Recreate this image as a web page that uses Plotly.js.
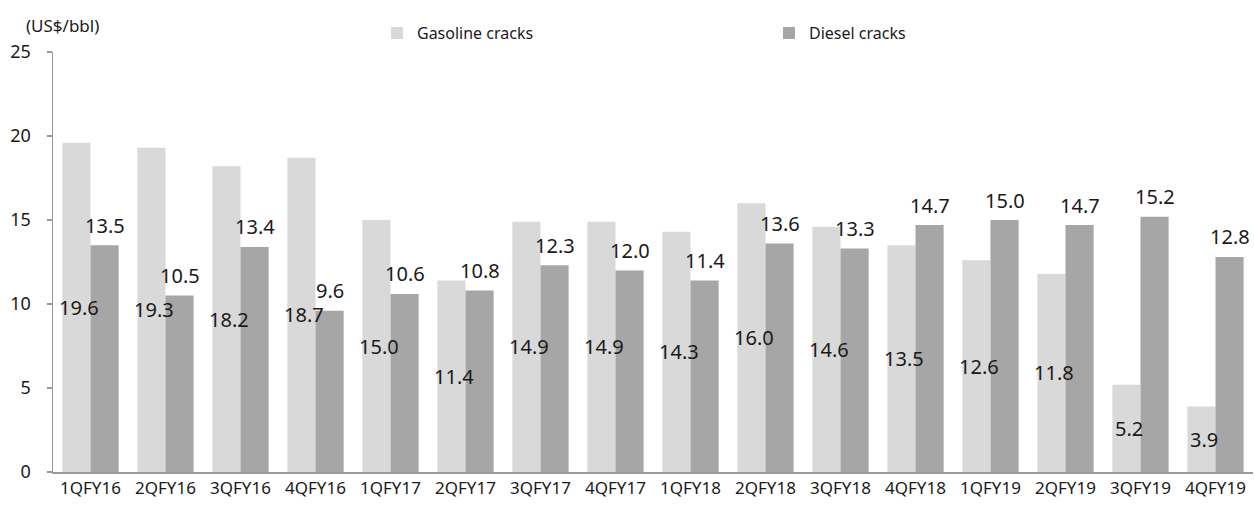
<!DOCTYPE html>
<html>
<head>
<meta charset="utf-8">
<script src="https://cdn.plot.ly/plotly-3.0.1.min.js"></script>
<style>html,body{margin:0;padding:0;background:#fff;}#chart{width:1254px;height:508px;}</style>
</head>
<body>
<div id="chart"></div>
<script>
const categories = ['1QFY16','2QFY16','3QFY16','4QFY16','1QFY17','2QFY17','3QFY17','4QFY17','1QFY18','2QFY18','3QFY18','4QFY18','1QFY19','2QFY19','3QFY19','4QFY19'];
const gasoline = [19.6,19.3,18.2,18.7,15.0,11.4,14.9,14.9,14.3,16.0,14.6,13.5,12.6,11.8,5.2,3.9];
const diesel = [13.5,10.5,13.4,9.6,10.6,10.8,12.3,12.0,11.4,13.6,13.3,14.7,15.0,14.7,15.2,12.8];
const yTicks = [0,5,10,15,20,25];

const FONT = 'Noto Sans, Open Sans, sans-serif';
const TXT = '#1a1a1a';

const traces = [
  {
    type: 'bar', name: 'Gasoline cracks', x: categories, y: gasoline,
    marker: {color: '#d9d9d9', line: {width: 0}},
    hoverinfo: 'skip'
  },
  {
    type: 'bar', name: 'Diesel cracks', x: categories, y: diesel,
    marker: {color: '#a6a6a6', line: {width: 0}},
    hoverinfo: 'skip'
  }
];

// value labels: gasoline centred inside its bar, diesel above its bar
const labelAnns = [];
categories.forEach((c, i) => {
  labelAnns.push({
    x: c, y: gasoline[i] / 2, xref: 'x', yref: 'y', xshift: -12,
    text: gasoline[i].toFixed(1), showarrow: false,
    xanchor: 'center', yanchor: 'middle',
    font: {family: FONT, size: 20, color: TXT}
  });
  labelAnns.push({
    x: c, y: diesel[i], xref: 'x', yref: 'y', xshift: 14, yshift: 20,
    text: diesel[i].toFixed(1), showarrow: false,
    xanchor: 'center', yanchor: 'middle',
    font: {family: FONT, size: 20, color: TXT}
  });
});

const layout = {
  width: 1254, height: 508,
  margin: {l: 53, r: 1, t: 52, b: 36, pad: 0},
  paper_bgcolor: '#fff', plot_bgcolor: '#fff',
  barmode: 'group', bargap: 0.25, bargroupgap: 0,
  font: {family: FONT, size: 17, color: TXT},
  showlegend: true,
  legend: {
    orientation: 'h', x: 0.27, xanchor: 'left', y: 1.045, yanchor: 'middle',
    entrywidth: 347, entrywidthmode: 'pixels',
    font: {family: FONT, size: 16, color: TXT},
    itemclick: false, bgcolor: 'rgba(0,0,0,0)'
  },
  xaxis: {
    type: 'category', showline: true, linecolor: '#999', linewidth: 1.5,
    ticks: '', showgrid: false, zeroline: false, automargin: false,
    tickfont: {family: FONT, size: 17, color: TXT}
  },
  yaxis: {
    range: [0, 25], tickvals: yTicks, ticktext: yTicks.map(String),
    showline: true, linecolor: '#999', linewidth: 1.5,
    ticks: 'outside', ticklen: 5, tickcolor: '#999', tickwidth: 1.5,
    ticklabelstandoff: 12,
    showgrid: false, zeroline: false, automargin: false,
    tickfont: {family: FONT, size: 18, color: TXT}
  },
  annotations: [
    {text: '(US$/bbl)', xref: 'paper', yref: 'paper', x: -0.024, y: 1.064,
     xanchor: 'left', yanchor: 'middle', showarrow: false,
     font: {family: FONT, size: 17, color: TXT}}
  ].concat(labelAnns)
};

Plotly.newPlot('chart', traces, layout, {displayModeBar: false, staticPlot: true});
</script>
</body>
</html>
